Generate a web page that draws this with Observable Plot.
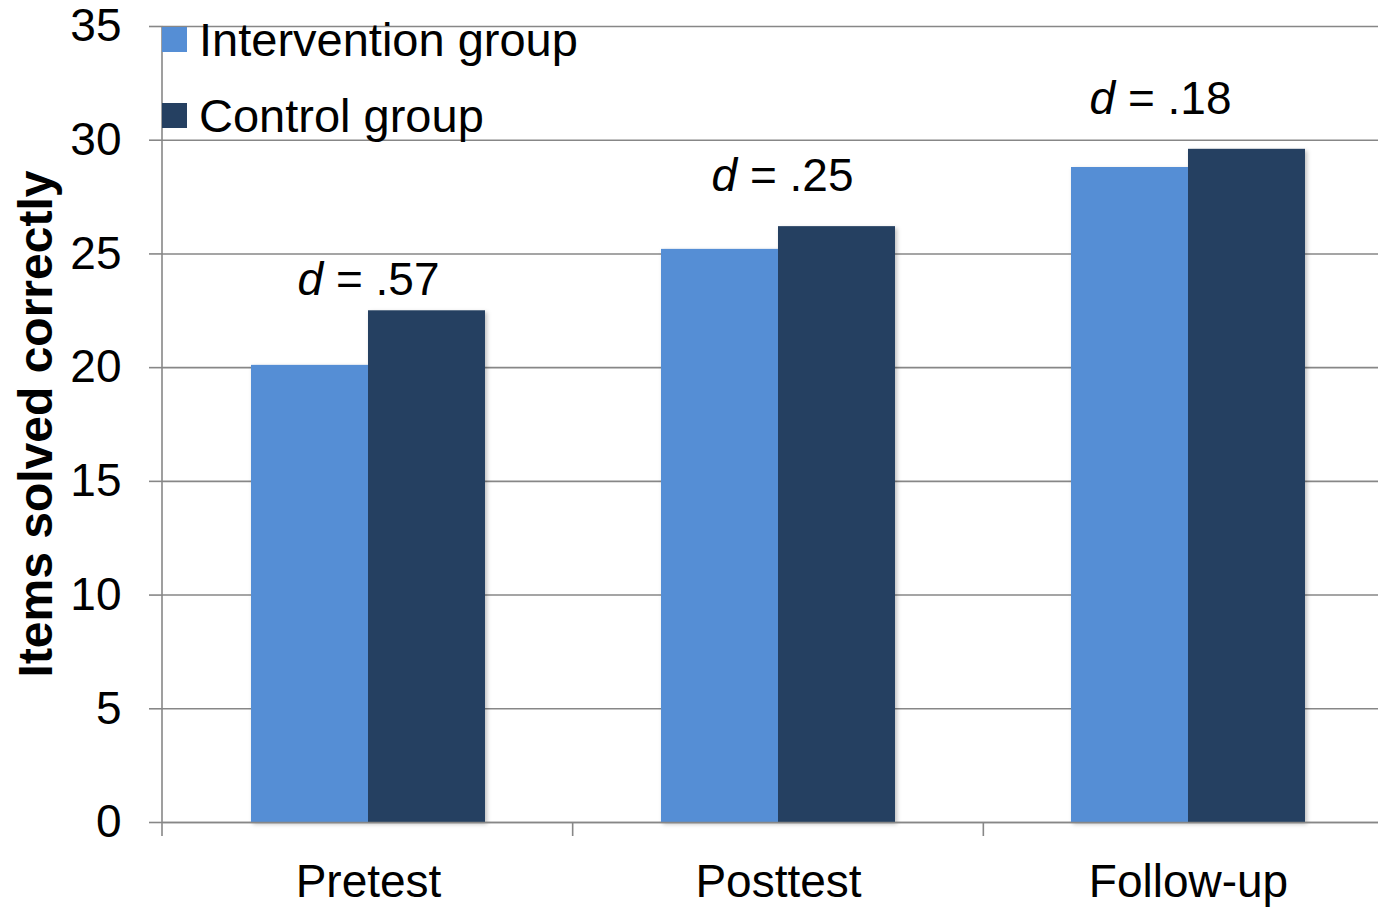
<!DOCTYPE html>
<html>
<head>
<meta charset="utf-8">
<script src="https://cdn.jsdelivr.net/npm/d3@7"></script>
<script src="https://cdn.jsdelivr.net/npm/@observablehq/plot@0.6"></script>
<style>
  html, body { margin: 0; padding: 0; background: #fff; overflow: hidden; }
  #wrap { position: relative; width: 1378px; height: 907px; overflow: hidden; }
  #wrap svg { max-width: none !important; width: 1394px; height: 907px; display: block; }
  #legend { position: absolute; left: 162px; top: 0; font-family: "Liberation Sans", Arial, sans-serif; font-size: 47px; color: #000; }
  .li { position: absolute; left: 0; white-space: nowrap; display: flex; align-items: center; }
  .sw { width: 25px; height: 25px; display: inline-block; margin-right: 12px; }
</style>
</head>
<body>
<div id="wrap"><div id="legend"></div></div>
<script>
const categories = ["Pretest", "Posttest", "Follow-up"];
const groups = ["Intervention group", "Control group"];
const intervention = [20.1, 25.2, 28.8];
const control = [22.5, 26.2, 29.6];
const effectSizes = [".57", ".25", ".18"];
const yTicks = [0, 5, 10, 15, 20, 25, 30, 35];
const groupColors = ["#558ED5", "#254061"];

const data = categories.flatMap((c, i) => [
  {cat: c, group: groups[0], value: intervention[i]},
  {cat: c, group: groups[1], value: control[i]}
]);
const effects = categories.map((c, i) => ({cat: c, d: effectSizes[i], top: Math.max(intervention[i], control[i])}));

const gray = "#878787";
const font = "'Liberation Sans', Arial, sans-serif";

const chart = Plot.plot({
  width: 1394,
  height: 907,
  marginLeft: 162,
  marginRight: 0,
  marginTop: 26,
  marginBottom: 85,
  style: {fontFamily: font, fontSize: "46px", color: "#000", background: "#fff", maxWidth: "none"},
  fx: {domain: categories, padding: 0, label: null},
  x: {domain: groups, paddingInner: 0, paddingOuter: 0.752, axis: null},
  y: {domain: [0, 35], label: null},
  color: {domain: groups, range: groupColors},
  marks: [
    Plot.gridY(yTicks, {stroke: gray, strokeOpacity: 1, strokeWidth: 1.6}),
    Plot.barY(data, {fx: "cat", x: "group", y: "value", fill: "group", className: "bars"}),
    Plot.ruleY([0], {stroke: gray, strokeWidth: 1.6}),
    Plot.axisY(yTicks, {tickSize: 14, tickPadding: 28, stroke: gray, fill: "#000", strokeWidth: 1.6, label: null, fontSize: 46}),
    Plot.axisFx({anchor: "bottom", tickSize: 0, tickPadding: 42, label: null, fill: "#000", fontSize: 46}),
    ...effects.map(e => Plot.text([e], {
      fx: "cat", y: "top", text: d => "d = " + d.d,
      lineAnchor: "middle", fontSize: 46, fill: "#000",
      dy: e.cat === "Pretest" ? -31 : -50,
      dx: e.cat === "Follow-up" ? -28 : (e.cat === "Posttest" ? 4 : 0),
      className: "dlabel"
    }))
  ]
});

const svg = d3.select(chart.tagName === "svg" ? chart : chart.querySelector("svg"));
const fx = chart.scale("fx");
const yS = chart.scale("y");
const y0 = yS.range[0], y1 = yS.range[1];
const left = fx.range[0];
const step = (fx.range[1] - fx.range[0]) / categories.length;
// category boundary ticks and y axis line, from the fx and y scales
const extra = svg.append("g").attr("stroke", gray).attr("stroke-width", 1.6);
extra.append("line").attr("x1", left).attr("x2", left).attr("y1", y1).attr("y2", y0 + 14);
for (let i = 1; i <= categories.length; i++) {
  const x = left + step * i;
  extra.append("line").attr("x1", x).attr("x2", x).attr("y1", y0).attr("y2", y0 + 14);
}
// axis title
svg.append("text")
  .attr("transform", `translate(52,${(y0 + y1) / 2}) rotate(-90)`)
  .attr("text-anchor", "middle")
  .attr("font-weight", "bold")
  .attr("font-size", 48)
  .attr("fill", "#000")
  .text("Items solved correctly");
// italic d
svg.selectAll("g.dlabel text").each(function () {
  const t = this.textContent;
  const rest = t.slice(1);
  const sel = d3.select(this);
  sel.text(null).style("white-space", "pre");
  sel.append("tspan").attr("font-style", "italic").text("d");
  sel.append("tspan").text(rest);
});
// soft bar shadow
svg.selectAll("g.bars").style("filter", "drop-shadow(2px 2px 2px rgba(0,0,0,0.25))");

document.getElementById("wrap").prepend(chart);
const legend = document.getElementById("legend");
groups.forEach((g, i) => {
  const item = document.createElement("div");
  item.className = "li";
  item.style.top = (i === 0 ? 12 : 88) + "px";
  const sw = document.createElement("span");
  sw.className = "sw";
  sw.style.background = groupColors[i];
  item.appendChild(sw);
  item.appendChild(document.createTextNode(g));
  legend.appendChild(item);
});
</script>
</body>
</html>
